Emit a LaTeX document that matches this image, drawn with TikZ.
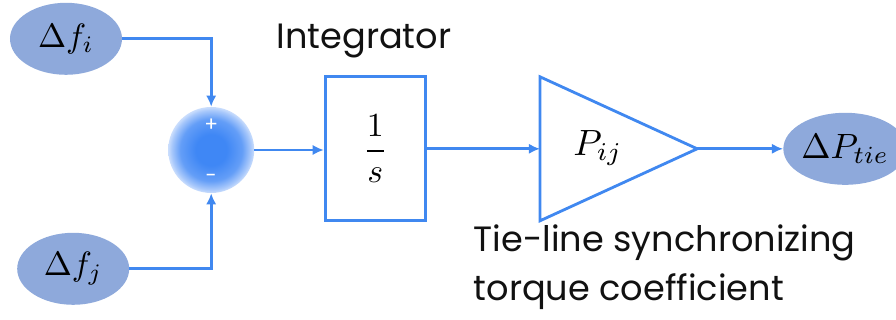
\documentclass[tikz,border=0pt]{standalone}
\usepackage{amsmath}
\usepackage{graphicx}
\usepackage{fontspec}
\setmainfont{Poppins}
\usetikzlibrary{arrows.meta,positioning,shapes.geometric}
\definecolor{wire}{HTML}{4088F0}
\definecolor{bubble}{HTML}{8EA9DB}
\definecolor{sumcore}{HTML}{3F87F5}
\definecolor{sumrim}{HTML}{A8C8FB}
\definecolor{ink}{HTML}{111111}
\pgfdeclareradialshading{sumball}{\pgfpoint{0cm}{0cm}}{%
  color(0bp)=(sumcore); color(9bp)=(sumcore);
  color(18bp)=(sumcore!65!sumrim); color(23bp)=(sumrim);
  color(25bp)=(sumrim!60!white); color(50bp)=(sumrim!60!white)}
\newcommand{\bigmath}[2][2.4]{\scalebox{#1}{$#2$}}

\begin{document}
\begin{tikzpicture}[x=1cm,y=1cm,
    signal/.style={ellipse,fill=bubble,minimum width=2.8cm,minimum height=1.8cm,
                   inner sep=0pt},
    wireto/.style={wire,line width=2pt,-{Latex[length=2.8mm,width=2.6mm]}},
    label/.style={text=ink,font=\fontsize{25}{30}\selectfont}]
    \useasboundingbox (0,0) rectangle (22.4,8);
    % inputs and summing junction
    \node[signal] (fi) at (1.65,7.03) {\bigmath{\Delta f_i}};
    \node[signal] (fj) at (1.83,1.28) {\bigmath{\Delta f_j}};
    \node[circle,minimum size=2.15cm,inner sep=0pt,shading=sumball] (sum) at (5.28,4.25) {};
    \node[text=white,font=\Large] (plus) at (5.28,4.88) {+};
    \node[text=white,font=\Large] (minus) at (5.28,3.55) {-};
    \draw[wireto] (fi.east) -| (sum.north);
    \draw[wireto] (fj.east) -| (sum.south);
    % integrator
    \node[draw=wire,line width=2pt,minimum width=2.5cm,minimum height=3.6cm]
      (integ) at (9.38,4.28) {\bigmath{\dfrac{1}{s}}};
    \node[label] (integlbl) at (9.1,6.98) {Integrator};
    \draw[wireto] (sum.east) -- (integ.west |- sum.east);
    % gain
    \coordinate (gtop) at (13.5,6.08);
    \coordinate (gbot) at (13.5,2.48);
    \coordinate (gin) at (13.5,4.28);
    \coordinate (gout) at (17.43,4.28);
    \draw[wire,line width=2pt,line join=miter] (gtop) -- (gout) -- (gbot) -- cycle;
    \node (gain) at (14.95,4.3) {\bigmath[2.6]{P_{ij}}};
    \draw[wireto] (integ.east) -- (gin);
    \node[signal,minimum width=2.75cm] (ptie) at (21.13,4.28) {\bigmath[2.5]{\Delta P_{tie}}};
    \draw[wireto] (gout) -- (ptie.west);
    \node[label,anchor=west] (tielbl) at (11.72,1.93) {Tie-line synchronizing};
    \node[label,anchor=west] (torquelbl) at (11.72,0.7) {torque coefficient};
  \end{tikzpicture}
\end{document}
